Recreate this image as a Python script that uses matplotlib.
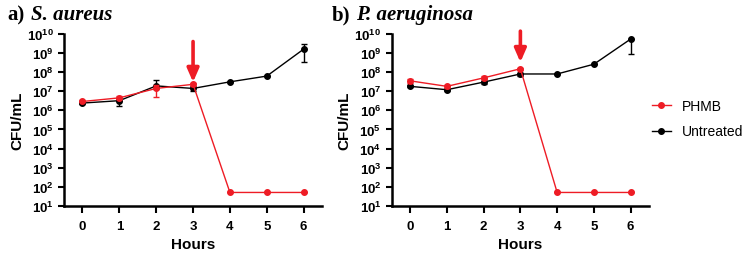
import numpy as np
import matplotlib.pyplot as plt
from matplotlib.ticker import FixedLocator, NullLocator
from matplotlib.lines import Line2D

hours = [0, 1, 2, 3, 4, 5, 6]

# S. aureus
sa_untreated = [2.4e6, 3.2e6, 1.9e7, 1.4e7, 3.1e7, 6.2e7, 1.6e9]
sa_untreated_lo = [2.1e6, 1.6e6, 1.3e7, 1.0e7, 3.1e7, 6.2e7, 3.5e8]
sa_untreated_hi = [2.7e6, 4.0e6, 3.8e7, 1.8e7, 3.1e7, 6.2e7, 2.8e9]
sa_phmb = [2.9e6, 4.5e6, 1.4e7, 2.3e7, 50, 50, 50]
sa_phmb_lo = [2.6e6, 3.8e6, 4.7e6, 1.9e7, 50, 50, 50]
sa_phmb_hi = [3.3e6, 5.3e6, 2.2e7, 2.8e7, 50, 50, 50]

# P. aeruginosa
pa_untreated = [1.8e7, 1.2e7, 3.0e7, 8.0e7, 8.0e7, 2.6e8, 5.4e9]
pa_untreated_lo = [1.6e7, 1.0e7, 2.5e7, 6.5e7, 8.0e7, 2.6e8, 9.0e8]
pa_untreated_hi = [2.0e7, 1.4e7, 3.5e7, 9.5e7, 8.0e7, 2.6e8, 5.4e9]
pa_phmb = [3.5e7, 1.8e7, 5.0e7, 1.5e8, 50, 50, 50]
pa_phmb_lo = [2.8e7, 1.5e7, 4.2e7, 1.3e8, 50, 50, 50]
pa_phmb_hi = [4.3e7, 2.2e7, 6.0e7, 1.7e8, 50, 50, 50]

titles = ["S. aureus", "P. aeruginosa"]
letters = ["a)", "b)"]

RED = "#ee1c25"
plt.rcParams['font.family'] = ['Liberation Sans', 'DejaVu Sans']

fig = plt.figure(figsize=(7.48, 2.55), dpi=100)
ax1 = fig.add_axes([0.0856, 0.189, 0.345, 0.674])
ax2 = fig.add_axes([0.5237, 0.189, 0.344, 0.674])

def err(vals, lo, hi):
    v = np.array(vals)
    return [v - np.array(lo), np.array(hi) - v]

panels = [
    (ax1, sa_untreated, sa_untreated_lo, sa_untreated_hi, sa_phmb, sa_phmb_lo, sa_phmb_hi, (4e9, 3e7)),
    (ax2, pa_untreated, pa_untreated_lo, pa_untreated_hi, pa_phmb, pa_phmb_lo, pa_phmb_hi, (1.4e10, 3.3e8)),
]
title_x = [0.01, 0.444]

for i, (ax, u, ulo, uhi, p, plo, phi, arr) in enumerate(panels):
    ax.errorbar(hours, u, yerr=err(u, ulo, uhi), color='black', marker='o', ms=4,
                lw=1, capsize=2.5, elinewidth=1, zorder=3)
    ax.errorbar(hours, p, yerr=err(p, plo, phi), color=RED, marker='o', ms=4,
                lw=1, capsize=2.5, elinewidth=1, zorder=4)
    ax.set_yscale('log')
    ax.set_ylim(10, 1e10)
    ax.set_xlim(-0.5, 6.5)
    ax.yaxis.set_major_locator(FixedLocator([10.0 ** k for k in range(1, 11)]))
    ax.yaxis.set_minor_locator(NullLocator())
    ax.set_xticks(hours)
    for s in ['top', 'right']:
        ax.spines[s].set_visible(False)
    for s in ['left', 'bottom']:
        ax.spines[s].set_linewidth(1.8)
    ax.tick_params(width=1.5, length=4, labelsize=9.5)
    ax.tick_params(axis='x', length=5, pad=5)
    for lab in ax.get_xticklabels() + ax.get_yticklabels():
        lab.set_fontweight('bold')
    ax.set_xlabel('Hours', fontsize=11, fontweight='bold', labelpad=4)
    ax.set_ylabel('CFU/mL', fontsize=11, fontweight='bold', labelpad=2)
    ax.annotate('', xy=(3, arr[1]), xytext=(3, arr[0]), annotation_clip=False,
                arrowprops=dict(arrowstyle='-|>,head_width=0.35,head_length=0.8',
                                color=RED, lw=2.6, shrinkA=0, shrinkB=0))
    fig.text(title_x[i], 0.94, letters[i], fontsize=15, fontweight='bold',
             family='Liberation Serif', ha='left', va='center')
    fig.text(title_x[i] + 0.032, 0.94, titles[i], fontsize=15, fontweight='bold',
             style='italic', family='Liberation Serif', ha='left', va='center')

handles = [Line2D([], [], color=RED, marker='o', ms=4, lw=1),
           Line2D([], [], color='black', marker='o', ms=4, lw=1)]
fig.legend(handles, ['PHMB', 'Untreated'], loc='center left', bbox_to_anchor=(0.871, 0.53),
           frameon=False, fontsize=10, handlelength=1.4, handletextpad=0.8,
           labelspacing=0.8, borderpad=0, borderaxespad=0)

fig.savefig('out.png', dpi=100)
